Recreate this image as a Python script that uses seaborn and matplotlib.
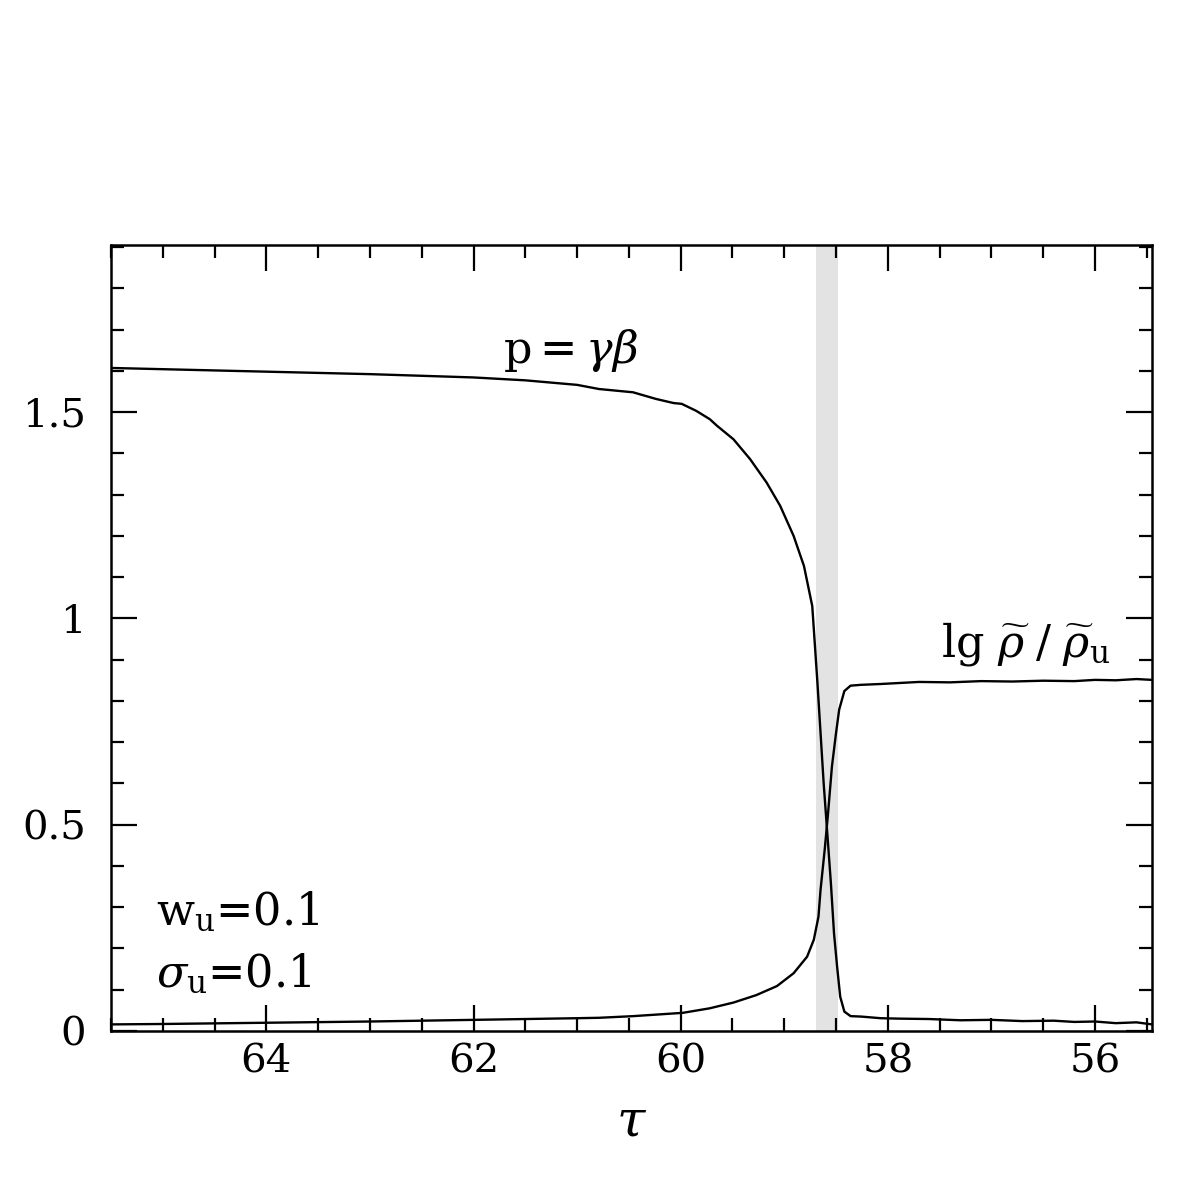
import matplotlib
matplotlib.use("Agg")
import matplotlib.pyplot as plt
import seaborn as sns
import pandas as pd
import numpy as np

# ---- data ----
tau_p = [65.5, 65.0, 64.5, 64.0, 63.5, 63.0, 62.5, 62.0, 61.5, 61.0, 60.79, 60.46,
         60.24, 60.07, 59.99, 59.85, 59.72, 59.65, 59.49, 59.33, 59.17, 59.04,
         58.91, 58.81, 58.73, 58.68, 58.65, 58.62, 58.585, 58.55, 58.52, 58.49,
         58.46, 58.42, 58.36, 58.26, 58.07, 57.9, 57.6, 57.3, 57.0, 56.7, 56.4,
         56.2, 56.0, 55.8, 55.6, 55.45]
p_vals = [1.607, 1.604, 1.601, 1.598, 1.595, 1.592, 1.588, 1.584, 1.577, 1.566,
          1.556, 1.548, 1.532, 1.522, 1.520, 1.503, 1.483, 1.467, 1.434, 1.386,
          1.329, 1.273, 1.200, 1.127, 1.030, 0.844, 0.723, 0.601, 0.480, 0.358,
          0.237, 0.156, 0.083, 0.047, 0.036, 0.035, 0.031, 0.030, 0.029, 0.026,
          0.027, 0.024, 0.025, 0.022, 0.023, 0.019, 0.021, 0.016]

tau_r = [65.5, 65.0, 64.0, 63.0, 62.0, 61.5, 61.0, 60.79, 60.46, 59.98, 59.72,
         59.49, 59.27, 59.07, 58.91, 58.78, 58.715, 58.67, 58.65, 58.61, 58.58,
         58.54, 58.50, 58.47, 58.42, 58.36, 58.26, 58.07, 57.7, 57.4, 57.1,
         56.8, 56.5, 56.2, 56.0, 55.8, 55.6, 55.45]
r_vals = [0.016, 0.017, 0.020, 0.023, 0.027, 0.029, 0.031, 0.032, 0.036, 0.044,
          0.055, 0.069, 0.087, 0.109, 0.140, 0.180, 0.221, 0.277, 0.342, 0.439,
          0.520, 0.641, 0.723, 0.779, 0.824, 0.837, 0.839, 0.841, 0.846, 0.845,
          0.848, 0.847, 0.849, 0.848, 0.851, 0.850, 0.853, 0.851]

band = [58.48, 58.69]
xticks = [64, 62, 60, 58, 56]
xtick_labels = ["64", "62", "60", "58", "56"]
yticks = [0, 0.5, 1, 1.5]
ytick_labels = ["0", "0.5", "1", "1.5"]

# ---- style ----
sns.set_theme(style="ticks")
plt.rcParams["font.family"] = ["DejaVu Serif"]
plt.rcParams["mathtext.fontset"] = "dejavuserif"
plt.rcParams["text.color"] = "black"
plt.rcParams["axes.labelcolor"] = "black"

fig = plt.figure(figsize=(11.96, 11.96), dpi=100)
ax = fig.add_axes([111 / 1196, 165 / 1196, (1152 - 111) / 1196, (1031 - 245) / 1196])

ax.axvspan(band[0], band[1], color="#e3e3e3", lw=0, zorder=0)

df_p = pd.DataFrame({"tau": tau_p, "val": p_vals})
df_r = pd.DataFrame({"tau": tau_r, "val": r_vals})
sns.lineplot(data=df_p, x="tau", y="val", ax=ax, color="black", lw=1.7, sort=False)
sns.lineplot(data=df_r, x="tau", y="val", ax=ax, color="black", lw=1.7, sort=False)

ax.set_xlim(65.5, 55.45)
ax.set_ylim(0, 1.905)

ax.set_xticks(xticks)
ax.set_xticklabels(xtick_labels)
ax.set_yticks(yticks)
ax.set_yticklabels(ytick_labels)
ax.set_xticks(np.arange(55.5, 65.6, 0.5), minor=True)
ax.set_yticks(np.arange(0, 1.91, 0.1), minor=True)

ax.tick_params(which="both", direction="in", top=True, right=True,
               colors="black", width=1.6)
ax.tick_params(which="major", length=19, labelsize=29)
ax.tick_params(which="minor", length=9.5)
ax.tick_params(axis="x", which="major", pad=9)
ax.tick_params(axis="y", which="major", pad=18)

for s in ax.spines.values():
    s.set_linewidth(1.8)
    s.set_color("black")

ax.set_xlabel(r"$\tau$", fontsize=37, labelpad=12, color="black")
ax.set_ylabel("")

ax.text(61.06, 1.65, r"p$=\gamma\beta$", fontsize=32, color="black",
        ha="center", va="center")
ax.text(56.67, 0.937, r"lg $\widetilde{\rho}\;/\;\widetilde{\rho}_\mathrm{u}$",
        fontsize=32, color="black", ha="center", va="center")
ax.text(65.07, 0.257, r"w$_\mathrm{u}$=0.1", fontsize=32, color="black",
        ha="left", va="baseline")
ax.text(65.07, 0.1075, r"$\sigma_\mathrm{u}$=0.1", fontsize=32, color="black",
        ha="left", va="baseline")

fig.savefig("out.png", dpi=100, facecolor="white")
